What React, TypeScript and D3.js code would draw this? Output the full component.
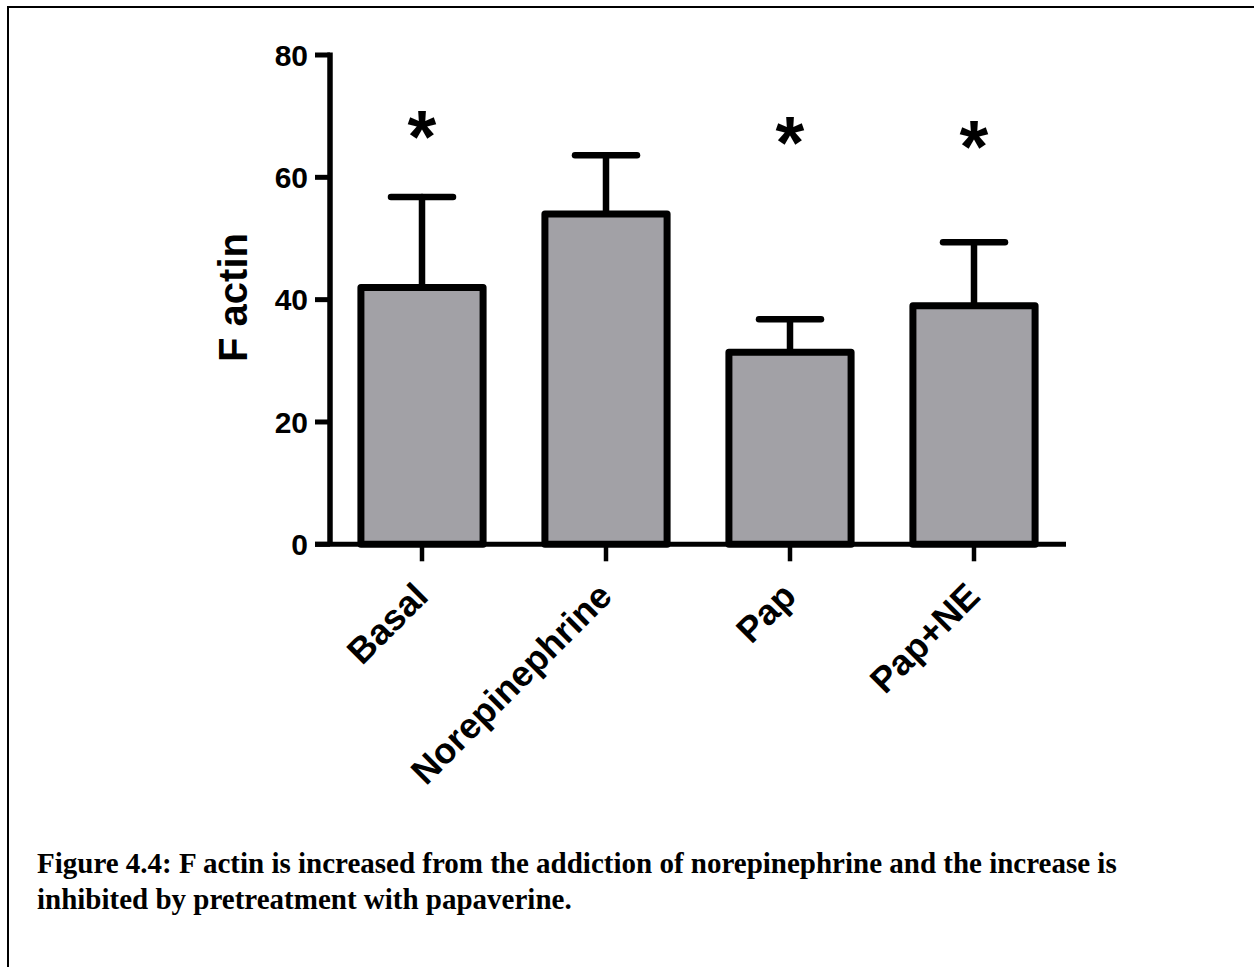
import React from 'react';
import * as d3 from 'd3';

const categories = ['Basal', 'Norepinephrine', 'Pap', 'Pap+NE'];
const means = [42, 54, 31.4, 39];
const errorTops = [56.8, 63.6, 36.8, 49.4];
// where the significance stars sit, in axis units (null = no star)
const starLevels = [68.1, null, 67.2, 66.4];
const yTicks = [0, 20, 40, 60, 80];
const yLabel = 'F actin';
const captionLines = [
  'Figure 4.4: F actin is increased from the addiction of norepinephrine and the increase is',
  'inhibited by pretreatment with papaverine.',
];

const W = 1254;
const H = 967;
const axisLeft = 330;
const axisRight = 1066;
const axisBottom = 544.3;
const axisTop = 55;

const App = () => {
  const x = d3.scaleBand<string>()
    .domain(categories)
    .range([axisLeft, axisRight])
    .paddingInner(0.336)
    .paddingOuter(0.168);

  const y = d3.scaleLinear()
    .domain([0, 80])
    .range([axisBottom, axisTop]);

  const bw = x.bandwidth();
  const sans = "'Liberation Sans', Arial, sans-serif";
  const starSize = 74;

  return (
    <svg width={W} height={H} style={{ position: 'absolute', left: 0, top: 0, background: '#fff' }}>
      {/* page frame */}
      <path d={`M8,${H + 5} V7 H${W + 5}`} fill="none" stroke="#000" strokeWidth={2} />

      {/* bars */}
      {categories.map((c, i) => (
        <rect key={c}
          x={x(c)}
          y={y(means[i])}
          width={bw}
          height={axisBottom - y(means[i])}
          fill="#a2a1a6"
          stroke="#000"
          strokeWidth={7}
          strokeLinejoin="round" />
      ))}

      {/* error bars */}
      {categories.map((c, i) => {
        const cx = (x(c) as number) + bw / 2;
        return (
          <g key={c} stroke="#000" strokeWidth={6.5} strokeLinecap="round">
            <line x1={cx} x2={cx} y1={y(means[i]) - 3} y2={y(errorTops[i])} />
            <line x1={cx - 31} x2={cx + 31} y1={y(errorTops[i])} y2={y(errorTops[i])} />
          </g>
        );
      })}

      {/* stars */}
      {categories.map((c, i) => starLevels[i] == null ? null : (
        <text key={c}
          x={(x(c) as number) + bw / 2}
          y={y(starLevels[i] as number) + starSize * 0.463}
          textAnchor="middle"
          fontFamily={sans}
          fontWeight="bold"
          fontSize={starSize}>*</text>
      ))}

      {/* y axis */}
      <line x1={axisLeft} x2={axisLeft} y1={axisTop - 2.5} y2={axisBottom} stroke="#000" strokeWidth={5.5} />
      {yTicks.map(t => (
        <g key={t}>
          <line x1={315} x2={axisLeft} y1={y(t)} y2={y(t)} stroke="#000" strokeWidth={5} />
          <text x={308} y={y(t) + 10.7} textAnchor="end"
            fontFamily={sans} fontWeight="bold" fontSize={30}>{t}</text>
        </g>
      ))}
      <text transform={`translate(247,297.5) rotate(-90)`} textAnchor="middle"
        fontFamily={sans} fontWeight="bold" fontSize={40}>{yLabel}</text>

      {/* x axis */}
      <line x1={315} x2={axisRight} y1={axisBottom} y2={axisBottom} stroke="#000" strokeWidth={5} />
      {categories.map(c => {
        const cx = (x(c) as number) + bw / 2;
        return (
          <g key={c}>
            <line x1={cx} x2={cx} y1={axisBottom} y2={axisBottom + 17} stroke="#000" strokeWidth={4.5} />
            <text transform={`translate(${cx + 8},${axisBottom + 54}) rotate(-45)`}
              textAnchor="end" fontFamily={sans} fontWeight="bold" fontSize={36}>{c}</text>
          </g>
        );
      })}

      {/* caption */}
      {captionLines.map((line, i) => (
        <text key={i} x={37} y={873 + i * 35.5}
          fontFamily="'Liberation Serif', 'Times New Roman', serif"
          fontWeight="bold" fontSize={29}>{line}</text>
      ))}
    </svg>
  );
};

export default App;
